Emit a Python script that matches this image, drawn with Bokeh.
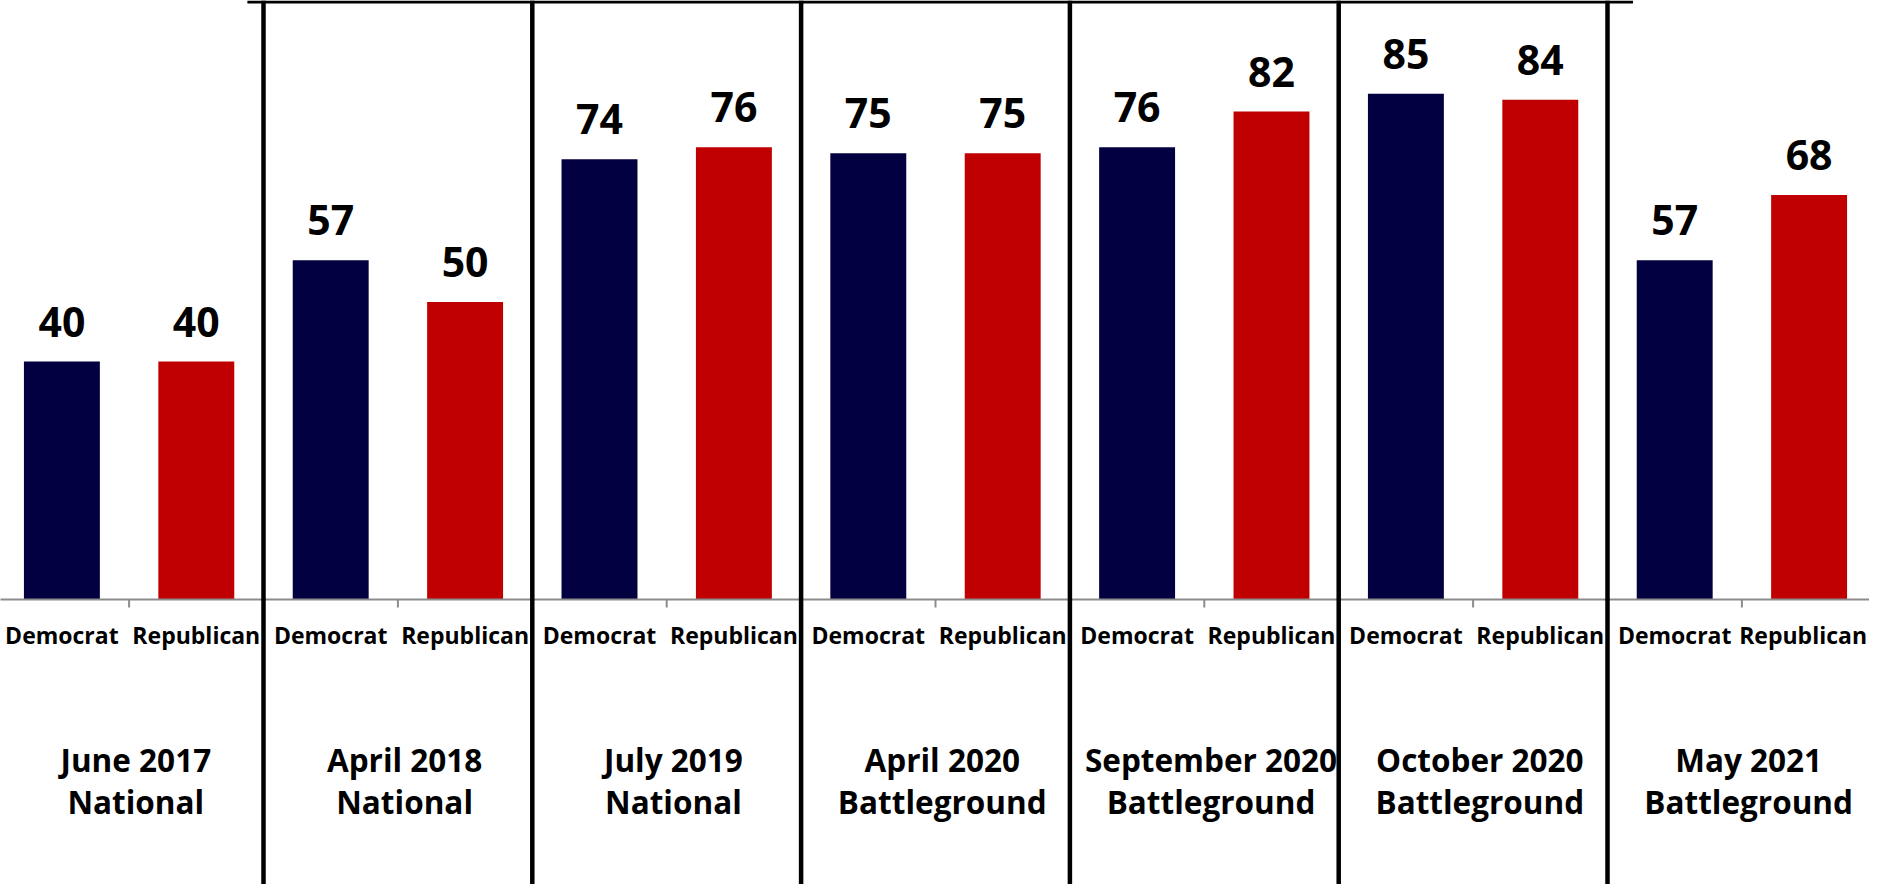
from bokeh.plotting import figure
from bokeh.models import Range1d, ColumnDataSource
from bokeh.core.properties import value
from bokeh.embed import file_html
from bokeh.resources import INLINE

# ---- data ----
group_dates = ["June 2017", "April 2018", "July 2019", "April 2020",
               "September 2020", "October 2020", "May 2021"]
group_types = ["National", "National", "National", "Battleground",
               "Battleground", "Battleground", "Battleground"]
parties = ["Democrat", "Republican"]
dem = [40, 57, 74, 75, 76, 85, 57]
rep = [40, 50, 76, 75, 82, 84, 68]

DEM_COLOR = "#020040"
REP_COLOR = "#C00000"
FONT = value("Open Sans")

W, H = 1869, 884
UNIT_X = 134.4          # px per category
PX_Y = 5.95             # px per percentage point
AXIS_PX = 599           # axis position from top (px)

n_cat = 2 * len(dem)
x_start = 5.8 / UNIT_X
x_end = x_start + W / UNIT_X
y_top = AXIS_PX / PX_Y
y_bot = -(H - AXIS_PX) / PX_Y

p = figure(width=W, height=H, output_backend="svg", toolbar_location=None,
           x_range=Range1d(x_start, x_end), y_range=Range1d(y_bot, y_top),
           min_border=0)
p.axis.visible = False
p.grid.visible = False
p.outline_line_color = None
p.background_fill_color = "white"
p.border_fill_color = "white"

def px(v):
    return v / PX_Y

# bars
xs_dem = [2 * i + 0.5 for i in range(len(dem))]
xs_rep = [2 * i + 1.5 for i in range(len(rep))]
p.vbar(x=xs_dem, top=dem, width=0.565, bottom=0, fill_color=DEM_COLOR, line_color=None)
p.vbar(x=xs_rep, top=rep, width=0.565, bottom=0, fill_color=REP_COLOR, line_color=None)

# value labels
vals_src = ColumnDataSource(dict(
    x=xs_dem + xs_rep,
    y=[v + px(40) for v in dem + rep],
    t=[str(v) for v in dem + rep]))
p.text(x="x", y="y", text="t", source=vals_src, text_font=FONT,
       text_font_style="bold", text_font_size="41px", text_align="center",
       text_baseline="alphabetic", text_color="black")

# axis line and ticks
p.segment(x0=[0], y0=[0], x1=[n_cat], y1=[0], line_color="#8c8c8c", line_width=2)
ticks = list(range(0, n_cat + 1))
p.segment(x0=ticks, y0=[0] * len(ticks), x1=ticks, y1=[-px(8)] * len(ticks),
          line_color="#8c8c8c", line_width=2)

# party labels (last one nudged so it stays inside the frame)
party_x = [i + 0.5 for i in range(n_cat)]
party_x[-1] -= 6 / UNIT_X
party_src = ColumnDataSource(dict(
    x=party_x,
    y=[-px(35)] * n_cat,
    t=[parties[i % 2] for i in range(n_cat)]))
p.text(x="x", y="y", text="t", source=party_src, text_font=FONT,
       text_font_style="bold", text_font_size="23px", text_align="center",
       text_baseline="alphabetic", text_color="black")

# group labels
gx = [2 * i + 1.05 for i in range(len(group_dates))]
p.text(x=gx, y=[-px(160)] * len(gx), text=group_dates, text_font=FONT,
       text_font_style="bold", text_font_size="31.5px", text_align="center",
       text_baseline="alphabetic", text_color="black")
p.text(x=gx, y=[-px(202)] * len(gx), text=group_types, text_font=FONT,
       text_font_style="bold", text_font_size="31.5px", text_align="center",
       text_baseline="alphabetic", text_color="black")

# separators
seps = list(range(2, n_cat, 2))
p.segment(x0=seps, y0=[y_bot] * len(seps), x1=seps, y1=[y_top] * len(seps),
          line_color="black", line_width=4.5)
p.segment(x0=[seps[0] - 0.12], y0=[y_top - px(1.5)], x1=[seps[-1] + 0.19],
          y1=[y_top - px(1.5)], line_color="black", line_width=3)

open("out.html", "w").write(file_html(p, INLINE))
